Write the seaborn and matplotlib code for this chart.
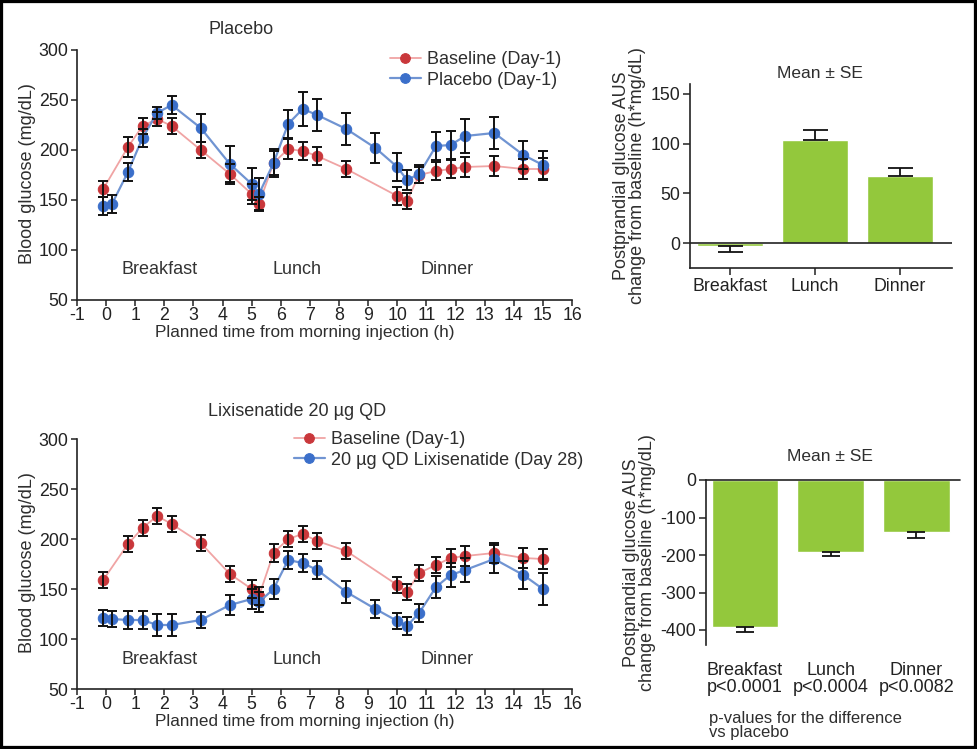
import numpy as np
import pandas as pd
import matplotlib
matplotlib.use("Agg")
import matplotlib.pyplot as plt
import seaborn as sns
from matplotlib.patches import Rectangle

# ---------------- data ----------------
t_base = [-0.1, 0.75, 1.25, 1.75, 2.25, 3.25, 4.25, 5.0, 5.25, 5.75, 6.25, 6.75, 7.25,
          8.25, 10.0, 10.33, 10.75, 11.33, 11.83, 12.33, 13.33, 14.33, 15.0]
t_trt = [-0.1, 0.2, 0.75, 1.25, 1.75, 2.25, 3.25, 4.25, 5.0, 5.25, 5.75, 6.25, 6.75, 7.25,
         8.25, 9.25, 10.0, 10.33, 10.75, 11.33, 11.83, 12.33, 13.33, 14.33, 15.0]

pla_base = [161, 203, 224, 231, 224, 200, 176, 156, 146, 187, 201, 199, 194,
            181, 154, 149, 175, 179, 181, 183, 184, 181, 181]
pla_base_se = [8, 10, 8, 7, 8, 8, 10, 10, 7, 12, 10, 9, 9, 8, 9, 8, 8, 9, 9, 10, 10, 10, 11]
pla_trt = [144, 146, 178, 212, 237, 245, 222, 186, 166, 156, 187, 226, 241, 235,
           221, 202, 183, 170, 176, 204, 205, 214, 217, 195, 185]
pla_trt_se = [9, 9, 9, 9, 6, 9, 14, 18, 16, 16, 14, 14, 17, 16, 16, 15, 14, 10, 9,
              14, 14, 17, 16, 14, 14]

lix_base = [159, 195, 211, 223, 215, 196, 165, 150, 143, 186, 200, 205, 198,
            188, 154, 147, 166, 174, 181, 183, 186, 181, 180]
lix_base_se = [8, 8, 8, 8, 8, 8, 8, 9, 9, 9, 8, 8, 8, 8, 8, 8, 8, 8, 9, 10, 10, 10, 10]
lix_trt = [121, 120, 119, 119, 114, 114, 119, 134, 140, 137, 150, 179, 176, 169,
           147, 130, 118, 113, 126, 152, 164, 169, 180, 164, 150]
lix_trt_se = [8, 8, 9, 9, 11, 11, 8, 10, 10, 10, 10, 9, 9, 9, 11, 9, 8, 9, 9, 11,
              12, 12, 14, 14, 16]

meals = ["Breakfast", "Lunch", "Dinner"]
meal_x = [1.85, 6.55, 11.7]
pla_auc = [-3, 104, 68]
pla_auc_se = [6, 10, 8]
lix_auc = [-393, -193, -138]
lix_auc_se = [13, 10, 17]
p_values = ["p<0.0001", "p<0.0004", "p<0.0082"]

# ---------------- style ----------------
sns.set_theme(style="white")
plt.rcParams["font.family"] = ["Liberation Sans", "DejaVu Sans"]
plt.rcParams["axes.unicode_minus"] = False
TXT = "#2e2e2e"
plt.rcParams["text.color"] = TXT
plt.rcParams["axes.labelcolor"] = TXT
plt.rcParams["xtick.color"] = TXT
plt.rcParams["ytick.color"] = TXT

RED_M = "#c9373b"
RED_L = "#f0a4a4"
BLUE_M = "#3b6fca"
BLUE_L = "#7094d2"
GREEN = "#93c83c"
FS = 13
FS_TICK = 12.8

W, H = 977, 749
fig = plt.figure(figsize=(W / 100, H / 100), dpi=100)


def fx(px):
    return px / W


def fy(py):
    return 1 - py / H


def line_panel(ax, base, base_se, trt, trt_se, trt_label, legend_pos):
    df_b = pd.DataFrame({"t": t_base, "g": base})
    df_t = pd.DataFrame({"t": t_trt, "g": trt})
    ax.errorbar(t_base, base, yerr=base_se, fmt="none", ecolor="#111111",
                elinewidth=1.4, capsize=3.5, capthick=1.4, zorder=4)
    ax.errorbar(t_trt, trt, yerr=trt_se, fmt="none", ecolor="#111111",
                elinewidth=1.4, capsize=3.5, capthick=1.4, zorder=4)
    sns.lineplot(data=df_b, x="t", y="g", ax=ax, color=RED_L, lw=1.3, marker="o",
                 markersize=7.5, markerfacecolor=RED_M, markeredgecolor=RED_M,
                 label="Baseline (Day-1)", zorder=3)
    sns.lineplot(data=df_t, x="t", y="g", ax=ax, color=BLUE_L, lw=1.6, marker="o",
                 markersize=7.5, markerfacecolor=BLUE_M, markeredgecolor=BLUE_M,
                 label=trt_label, zorder=3)
    ax.set_xlim(-1, 16)
    ax.set_ylim(50, 302)
    ax.set_xticks(range(-1, 17))
    ax.set_yticks([50, 100, 150, 200, 250, 300])
    for s in ["top", "right"]:
        ax.spines[s].set_visible(False)
    for s in ["left", "bottom"]:
        ax.spines[s].set_color("#222222")
        ax.spines[s].set_linewidth(1.2)
    ax.spines["left"].set_bounds(50, 300)
    ax.tick_params(axis="both", which="both", direction="out", length=4, width=1.1,
                   labelsize=FS_TICK, pad=2, left=True, bottom=True, colors="#222222")
    ax.tick_params(axis="x", pad=1)
    ax.set_xlabel("Planned time from morning injection (h)", fontsize=12.3, labelpad=0)
    ax.xaxis.set_label_coords((305 - 77) / 495, -0.1)
    ax.set_ylabel("Blood glucose (mg/dL)", fontsize=FS, labelpad=2)
    for m, x in zip(meals, meal_x):
        ax.text(x, 80, m, ha="center", va="center", fontsize=FS, color="#333333")
    leg = ax.legend(loc="upper left", bbox_to_anchor=legend_pos, bbox_transform=fig.transFigure,
                    frameon=False, fontsize=FS, handlelength=1.7, handletextpad=0.35,
                    labelspacing=0.2, borderaxespad=0, borderpad=0)
    for h in leg.legend_handles:
        h.set_markersize(7)
    ax.grid(False)


# ---------------- top-left: placebo ----------------
ax1 = fig.add_axes([fx(77), fy(300), fx(572 - 77), (250 + 2) / H])
line_panel(ax1, pla_base, pla_base_se, pla_trt, pla_trt_se, "Placebo (Day-1)",
           (fx(390), fy(51)))
fig.text(fx(208), fy(30), "Placebo", fontsize=FS, ha="left", va="center")

# ---------------- bottom-left: lixisenatide ----------------
ax2 = fig.add_axes([fx(77), fy(689), fx(572 - 77), (250 + 2) / H])
line_panel(ax2, lix_base, lix_base_se, lix_trt, lix_trt_se,
           "20 µg QD Lixisenatide (Day 28)", (fx(294), fy(431)))
fig.text(fx(208), fy(411), "Lixisenatide 20 µg QD", fontsize=FS, ha="left", va="center")

# ---------------- top-right bar ----------------
ylab = "Postprandial glucose AUS\nchange from baseline (h*mg/dL)"
ax3 = fig.add_axes([fx(690), fy(268), fx(952 - 690), (268 - 84) / H])
sns.barplot(x=meals, y=pla_auc, color=GREEN, saturation=1, width=0.78, ax=ax3,
            errorbar=None, zorder=2)
yerr3 = [[s if v < 0 else 0 for v, s in zip(pla_auc, pla_auc_se)],
         [s if v >= 0 else 0 for v, s in zip(pla_auc, pla_auc_se)]]
ax3.errorbar(range(3), pla_auc, yerr=yerr3, fmt="none", ecolor="#111111",
             elinewidth=1.3, capsize=9, capthick=1.3, zorder=3)
ax3.axhline(0, color="#222222", lw=1.2, zorder=4)
ax3.set_xlim(-0.47, 2.61)
ax3.set_ylim(-25, 160)
ax3.set_yticks([0, 50, 100, 150])
for s in ["top", "right"]:
    ax3.spines[s].set_visible(False)
for s in ["left", "bottom"]:
    ax3.spines[s].set_color("#222222")
    ax3.spines[s].set_linewidth(1.2)
ax3.tick_params(axis="both", direction="out", length=5, width=1.1, labelsize=FS_TICK,
                pad=2, left=True, bottom=True, colors="#222222")
ax3.set_ylabel(ylab, fontsize=FS, labelpad=3, linespacing=0.92)
ax3.set_title("Mean ± SE", fontsize=12.5, pad=4, x=(820 - 690) / 262)
ax3.grid(False)

# ---------------- bottom-right bar ----------------
ax4 = fig.add_axes([fx(706), fy(645), fx(960 - 706), (645 - 480) / H])
sns.barplot(x=meals, y=lix_auc, color=GREEN, saturation=1, width=0.78, ax=ax4,
            errorbar=None, zorder=2)
yerr4 = [[s if v < 0 else 0 for v, s in zip(lix_auc, lix_auc_se)],
         [s if v >= 0 else 0 for v, s in zip(lix_auc, lix_auc_se)]]
ax4.errorbar(range(3), lix_auc, yerr=yerr4, fmt="none", ecolor="#111111",
             elinewidth=1.3, capsize=6.5, capthick=1.3, zorder=3)
ax4.axhline(0, color="#222222", lw=1.2, zorder=4, clip_on=False)
ax4.set_xlim(-0.456, 2.51)
ax4.set_ylim(-440, 0)
ax4.set_yticks([0, -100, -200, -300, -400])
for s in ["top", "right", "bottom"]:
    ax4.spines[s].set_visible(False)
ax4.spines["left"].set_color("#222222")
ax4.spines["left"].set_linewidth(1.2)
ax4.set_xticks(range(3))
ax4.set_xticklabels([f"{m}\n{p}" for m, p in zip(meals, p_values)], linespacing=1.05)
ax4.tick_params(axis="y", direction="out", length=5, width=1.1, labelsize=FS_TICK,
                pad=2, left=True, colors="#222222")
ax4.tick_params(axis="x", length=0, labelsize=FS, pad=12, colors="#222222")
ax4.set_ylabel(ylab, fontsize=FS, labelpad=3, linespacing=0.92)
ax4.set_title("Mean ± SE", fontsize=12.5, pad=14, x=(830 - 706) / 254)
ax4.set_xlabel("")
ax4.grid(False)
fig.text(fx(709), fy(711), "p-values for the difference\nvs placebo", fontsize=12,
         ha="left", va="top", linespacing=0.9)

# ---------------- border ----------------
fig.patches.append(Rectangle((0, 0), 1, 1, transform=fig.transFigure, fill=False,
                             edgecolor="black", lw=4.5, zorder=10))

fig.savefig("out.png", dpi=100)
